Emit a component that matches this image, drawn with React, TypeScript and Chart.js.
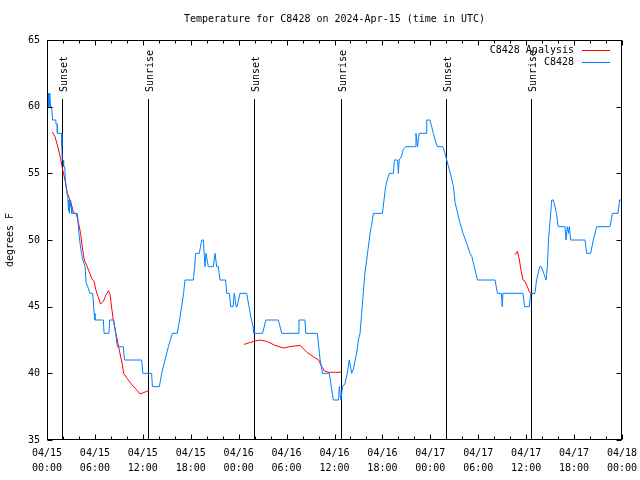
import React, { useEffect, useRef } from "react";
import { Chart, registerables } from "chart.js";
Chart.register(...registerables);

// X axis: hours since 04/15 00:00 UTC
const tickDates = ["04/15", "04/15", "04/15", "04/15", "04/16", "04/16", "04/16", "04/16", "04/17", "04/17", "04/17", "04/17", "04/18"];
const tickTimes = ["00:00", "06:00", "12:00", "18:00", "00:00", "06:00", "12:00", "18:00", "00:00", "06:00", "12:00", "18:00", "00:00"];

const sunHours = [1.92, 12.7, 25.9, 36.8, 50.0, 60.6];
const sunLabels = ["Sunset", "Sunrise", "Sunset", "Sunrise", "Sunset", "Sunrise"];

const stationHours = [
  0, 0.08, 0.15, 0.25, 0.35, 0.45, 0.58, 0.7, 1.1, 1.13, 1.27, 1.3, 1.83, 1.86, 1.9, 2.04, 2.08, 2.22, 2.3, 2.45,
  2.6, 2.7, 2.75, 2.8, 2.88, 2.95, 3.05, 3.1, 3.8, 4.0, 4.13, 4.34, 4.5, 4.76, 4.9, 5.1, 5.38, 5.72, 5.9, 6.01,
  7.05, 7.15, 7.75, 7.85, 8.35, 8.6, 8.81, 9.56, 9.7, 11.85, 12.0, 13.1, 13.2, 14.07, 14.36, 14.78, 15.2, 15.7, 16.3, 16.6,
  16.86, 17.1, 17.28, 18.32, 18.5, 18.6, 19.07, 19.37, 19.58, 19.78, 19.91, 20.2, 20.83, 21.04, 21.25, 21.45, 21.66, 22.37, 22.5, 22.83,
  23.0, 23.3, 23.45, 23.67, 23.8, 24.17, 25.0, 25.3, 25.5, 25.8, 25.9, 27.0, 27.4, 28.97, 29.4, 31.47, 31.55, 32.3, 32.4, 33.85,
  34.2, 34.5, 35.35, 35.6, 35.85, 36.5, 36.6, 36.8, 37.0, 37.3, 37.6, 37.85, 38.15, 38.35, 38.8, 38.98, 39.2, 39.4, 39.6, 39.8,
  40.03, 40.2, 40.45, 40.65, 40.86, 42.0, 42.2, 42.4, 42.6, 42.87, 43.37, 43.5, 43.9, 44.0, 44.1, 44.4, 44.6, 44.95, 46.1, 46.2,
  46.4, 46.6, 47.46, 47.55, 47.96, 48.17, 48.37, 48.7, 48.9, 49.55, 49.84, 50.05, 50.5, 50.9, 51.1, 51.3, 51.7, 52.1, 52.55, 52.97,
  53.2, 53.6, 53.9, 56.1, 56.4, 56.9, 57.0, 57.1, 59.6, 59.8, 60.4, 60.55, 61.1, 61.3, 61.7, 61.9, 62.2, 62.5, 62.65, 62.8,
  63.0, 63.2, 63.4, 63.6, 63.8, 64.0, 64.86, 65.0, 65.15, 65.3, 65.4, 65.58, 67.37, 67.58, 68.08, 68.4, 68.83, 70.5, 70.8, 71.5,
  71.7, 72.0,
];
const stationTemps = [
  61, 60, 61, 60, 61, 60, 60, 59, 59, 58.7, 58.7, 58, 58, 57, 56, 56, 55.5, 55.5, 54.5, 53.7,
  53.2, 52.2, 53, 52, 53, 52.5, 52.5, 52, 52, 50.5, 49.8, 48.9, 48.5, 48, 46.8, 46.5, 46, 46, 44.5, 44,
  44, 43, 43, 44, 44, 43, 42, 42, 41, 41, 40, 40, 39, 39, 40, 41, 42, 43, 43, 44,
  45, 46, 47, 47, 48, 49, 49, 50, 50, 48, 49, 48, 48, 49, 48, 48, 47, 47, 46, 46,
  45, 45, 46, 45, 45, 46, 46, 45, 44.3, 43.5, 43, 43, 44, 44, 43, 43, 44, 44, 43, 43,
  41, 40, 40, 39, 38, 38, 39, 38, 39, 39.2, 40, 41, 40, 40.3, 41.6, 42.5, 43, 44.5, 46, 47.5,
  48.5, 49.3, 50.5, 51.1, 52, 52, 53, 54, 54.5, 55, 55, 56, 56, 55, 56, 56.3, 56.8, 57, 57, 58,
  57, 58, 58, 59, 59, 58.5, 58, 57.3, 57, 57, 56.5, 56, 55, 54, 52.8, 52.3, 51.3, 50.5, 49.75, 49,
  48.75, 47.75, 47, 47, 46, 46, 45, 46, 46, 45, 45, 46, 46, 47, 48, 48, 47.5, 47, 48, 50,
  51.5, 53, 53, 52.5, 52, 51, 51, 50, 51, 50.5, 51, 50, 50, 49, 49, 50, 51, 51, 52, 52,
  53, 53,
];

const analysisHours = [
  0.67, 1.0, 1.4, 1.7, 1.97, 2.25, 2.55, 2.96, 3.3, 3.7, 4.05, 4.2, 4.47, 4.67, 4.97, 5.3, 5.6, 5.9, 6.1, 6.4,
  6.7, 7.05, 7.4, 7.7, 7.9, 8.1, 8.3, 8.5, 8.8, 9.1, 9.4, 9.6, 10.05, 10.5, 11.0, 11.65, 12.06, 12.5, 12.8, 18.0,
  24.67, 25.9, 26.67, 27.5, 28.55, 29.6, 30.4, 31.7, 32.5, 33.35, 34.0, 34.4, 34.7, 35.2, 36.9, 48.0,
  58.6, 58.9, 59.15, 59.35, 59.6, 59.85, 60.15, 60.4, 60.7, 61.0,
];
const analysisTemps = [
  58.1, 57.75, 56.9, 56.1, 55.25, 54.5, 53.5, 52.9, 52.1, 51.9, 51, 50.5, 49.25, 48.5, 48.1, 47.6, 47.1, 46.9, 46.3, 45.75,
  45.2, 45.4, 45.9, 46.2, 45.9, 44.9, 44.0, 43.4, 42.5, 41.6, 40.75, 40.0, 39.6, 39.25, 38.9, 38.45, 38.55, 38.65, 38.75, null,
  42.17, 42.4, 42.5, 42.4, 42.1, 41.9, 42.0, 42.1, 41.6, 41.25, 41.0, 40.5, 40.2, 40.08, 40.08, null,
  48.9, 49.15, 48.5, 47.75, 47.0, 46.9, 46.5, 46.1, 45.95, 46.0,
];

const seriesNames = ["C8428 Analysis", "C8428"];
const seriesColors = ["#ff0000", "#0080ff"];
const titleText = "Temperature for C8428 on 2024-Apr-15 (time in UTC)";
const FONT = "'DejaVu Sans Mono', monospace";

const overlay = {
  id: "overlay",
  beforeDatasetsDraw(chart: any) {
    const { ctx, chartArea, scales } = chart;
    const { top, bottom } = chartArea;
    const x = scales.x;
    ctx.save();
    ctx.strokeStyle = "#000";
    ctx.fillStyle = "#000";
    ctx.lineWidth = 1;
    ctx.font = `10px ${FONT}`;
    sunHours.forEach((h, i) => {
      const px = Math.round(x.getPixelForValue(h)) + 0.5;
      ctx.beginPath();
      ctx.moveTo(px, top + 59);
      ctx.lineTo(px, bottom);
      ctx.stroke();
      ctx.save();
      ctx.translate(px + 4, top + 52);
      ctx.rotate(-Math.PI / 2);
      ctx.textAlign = "left";
      ctx.textBaseline = "alphabetic";
      ctx.fillText(sunLabels[i], 0, 0);
      ctx.restore();
    });
    ctx.restore();
  },
  afterDraw(chart: any) {
    const { ctx, chartArea, scales } = chart;
    const { top, bottom, left, right } = chartArea;
    const x = scales.x;
    const y = scales.y;
    ctx.save();
    ctx.strokeStyle = "#000";
    ctx.fillStyle = "#000";
    ctx.lineWidth = 1;
    const L = Math.round(left) + 0.5, R = Math.round(right) - 0.5;
    const T = Math.round(top) + 0.5, B = Math.round(bottom) - 0.5;
    ctx.strokeRect(L, T, R - L, B - T);
    ctx.beginPath();
    for (let h = 0; h <= 72; h += 2) {
      const px = Math.round(x.getPixelForValue(h)) + 0.5;
      const len = h % 6 === 0 ? 5 : 3;
      ctx.moveTo(px, B); ctx.lineTo(px, B - len);
      ctx.moveTo(px, T); ctx.lineTo(px, T + len);
    }
    for (let v = 35; v <= 65; v += 5) {
      const py = Math.round(y.getPixelForValue(v)) + 0.5;
      ctx.moveTo(L, py); ctx.lineTo(L + 5, py);
      ctx.moveTo(R, py); ctx.lineTo(R - 5, py);
    }
    ctx.stroke();
    // title
    ctx.font = `10px ${FONT}`;
    ctx.textAlign = "center";
    ctx.textBaseline = "middle";
    ctx.fillText(titleText, (left + right) / 2, 19);
    // legend
    ctx.textAlign = "right";
    seriesNames.forEach((n, i) => {
      const ly = top + 10 + i * 12;
      ctx.fillStyle = "#000";
      ctx.fillText(n, right - 48, ly);
      ctx.strokeStyle = seriesColors[i];
      ctx.beginPath();
      ctx.moveTo(right - 40, Math.round(ly) + 0.5);
      ctx.lineTo(right - 12, Math.round(ly) + 0.5);
      ctx.stroke();
    });
    ctx.restore();
  },
};

export default function App() {
  const ref = useRef<HTMLCanvasElement>(null);
  useEffect(() => {
    const chart = new Chart(ref.current as HTMLCanvasElement, {
      type: "line",
      data: {
        datasets: [
          {
            label: seriesNames[0],
            data: analysisHours.map((h, i) => ({ x: h, y: analysisTemps[i] })),
            borderColor: seriesColors[0],
            borderWidth: 1,
            pointRadius: 0,
            spanGaps: false,
            order: 1,
          },
          {
            label: seriesNames[1],
            data: stationHours.map((h, i) => ({ x: h, y: stationTemps[i] })),
            borderColor: seriesColors[1],
            borderWidth: 1,
            pointRadius: 0,
            order: 0,
          },
        ],
      },
      options: {
        animation: false,
        responsive: false,
        maintainAspectRatio: false,
        layout: { padding: { top: 40, right: 18, left: 0, bottom: 0 } },
        plugins: { legend: { display: false }, title: { display: false }, tooltip: { enabled: false } },
        scales: {
          x: {
            type: "linear",
            min: 0,
            max: 72,
            grid: { display: false, drawTicks: false },
            border: { display: false },
            ticks: {
              stepSize: 6,
              autoSkip: false,
              maxRotation: 0,
              minRotation: 0,
              padding: 6,
              color: "#000",
              font: { family: FONT, size: 10, lineHeight: 1.5 },
              callback: (v: any) => {
                const i = Math.round(Number(v) / 6);
                return [tickDates[i], tickTimes[i]];
              },
            },
            afterFit: (s: any) => { s.height = 40; s.paddingLeft = 0; s.paddingRight = 0; },
          },
          y: {
            min: 35,
            max: 65,
            grid: { display: false, drawTicks: false },
            border: { display: false },
            ticks: {
              stepSize: 5,
              padding: 7,
              color: "#000",
              font: { family: FONT, size: 10 },
            },
            title: {
              display: true,
              text: "degrees F",
              color: "#000",
              font: { family: FONT, size: 10, lineHeight: 1.2 },
              padding: { top: 4, bottom: 0 },
            },
            afterFit: (s: any) => { s.width = 47; s.paddingTop = 0; s.paddingBottom = 0; },
          },
        },
      },
      plugins: [overlay],
    } as any);
    return () => chart.destroy();
  }, []);
  return (
    <div style={{ position: "fixed", left: 0, top: 0, width: 640, height: 480, background: "#fff" }}>
      <canvas ref={ref} width={640} height={480} style={{ display: "block" }} />
    </div>
  );
}
